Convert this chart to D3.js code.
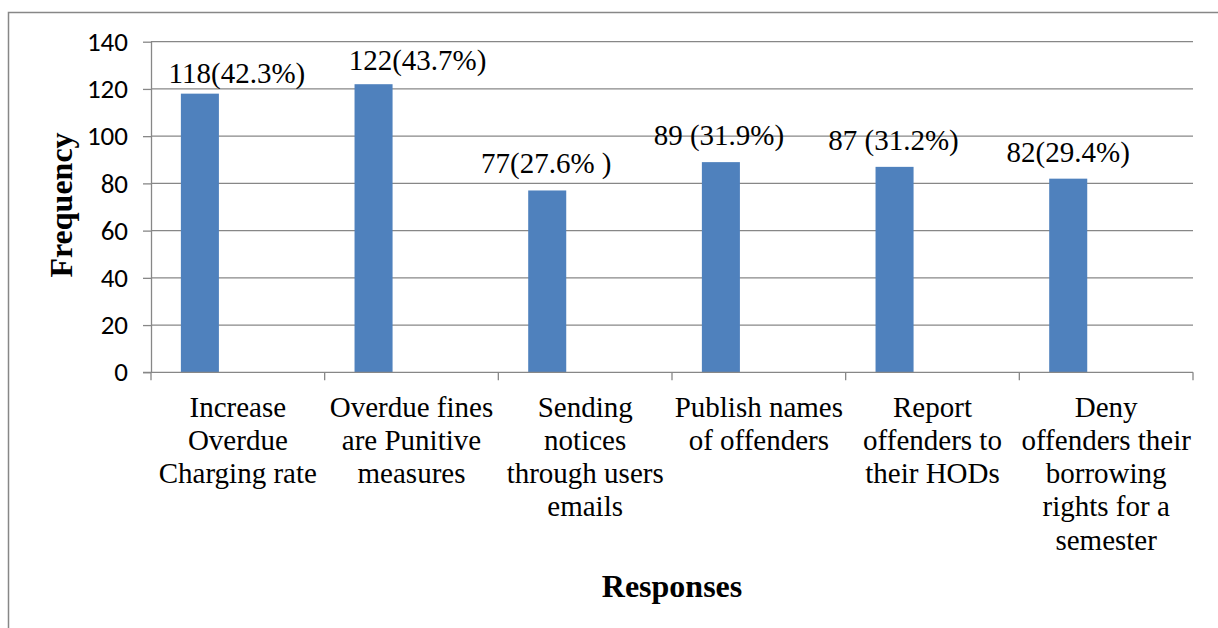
<!DOCTYPE html>
<html>
<head>
<meta charset="utf-8">
<title>Responses frequency</title>
<script src="https://cdnjs.cloudflare.com/ajax/libs/d3/7.8.5/d3.min.js"></script>
<style>
  body { margin: 0; background: #fff; }
  svg { display: block; }
  .val { font-family: "Liberation Serif", "Times New Roman", serif; font-size: 29px; fill: #000; white-space: pre; }
  .cat { font-family: "Liberation Serif", "Times New Roman", serif; font-size: 29px; fill: #000; }
  .title { font-family: "Liberation Serif", "Times New Roman", serif; font-size: 32px; font-weight: bold; fill: #000; }
</style>
</head>
<body>
<div id="chart"></div>
<script>
// data
var categories = [
  "Increase|Overdue|Charging rate",
  "Overdue fines|are Punitive|measures",
  "Sending|notices|through users|emails",
  "Publish names|of offenders",
  "Report|offenders to|their HODs",
  "Deny|offenders their|borrowing|rights for a|semester"
];
var frequency = [118, 122, 77, 89, 87, 82];
var valueLabels = ["118(42.3%)", "122(43.7%)", "77(27.6% )", "89 (31.9%)", "87 (31.2%)", "82(29.4%)"];
var yTicks = [0, 20, 40, 60, 80, 100, 120, 140];

// hand placed label nudges (as in the original)
var labelDx = [37, 44, -1, -2, -1, 0];
var labelDy = [11, 14, 17, 17, 17, 17];

var W = 1218, H = 628;
var plotL = 151, plotR = 1193, plotT = 41.7, plotB = 372.3;
var grey = "#878787";

var svg = d3.select("#chart").append("svg")
    .attr("width", W).attr("height", H);

// outer frame (right and bottom cut off)
svg.append("path")
    .attr("d", "M8.5," + H + "V12.5H" + W)
    .attr("fill", "none").attr("stroke", grey).attr("stroke-width", 1.5);

var x = d3.scaleBand().domain(d3.range(categories.length)).range([plotL, plotR]);
var y = d3.scaleLinear().domain([0, 140]).range([plotB, plotT]);

// gridlines
svg.append("g").selectAll("line")
  .data(yTicks.filter(function(d) { return d > 0; }))
  .enter().append("line")
    .attr("x1", plotL).attr("x2", plotR)
    .attr("y1", function(d) { return y(d); })
    .attr("y2", function(d) { return y(d); })
    .attr("stroke", grey).attr("stroke-width", 1.3);

// bars
var bw = x.bandwidth();
svg.append("g").selectAll("rect")
  .data(frequency)
  .enter().append("rect")
    .attr("x", function(d, i) { return x(i) + bw * 0.172; })
    .attr("width", bw * 0.219)
    .attr("y", function(d) { return y(d); })
    .attr("height", function(d) { return y(0) - y(d); })
    .attr("fill", "#4F81BD");

// y axis
var yAxis = d3.axisLeft(y).tickValues(yTicks).tickSize(8).tickPadding(15);
var gy = svg.append("g").attr("transform", "translate(" + plotL + ",0)").call(yAxis);
gy.attr("font-size", 27).attr("font-family", "Carlito, Calibri, Lato, sans-serif");
gy.selectAll("path, line").attr("stroke", grey).attr("stroke-width", 1.3);
gy.select("path").attr("d", "M0.5," + plotT + "V" + plotB);
gy.selectAll("text").attr("fill", "#000");

// x axis line and ticks at band edges
svg.append("line")
    .attr("x1", plotL - 8).attr("x2", plotR)
    .attr("y1", plotB).attr("y2", plotB)
    .attr("stroke", grey).attr("stroke-width", 1.3);
var edges = d3.range(categories.length).map(function(i) { return x(i); }).concat([plotR]);
svg.append("g").selectAll("line")
  .data(edges)
  .enter().append("line")
    .attr("x1", function(d) { return d; }).attr("x2", function(d) { return d; })
    .attr("y1", plotB).attr("y2", plotB + 8)
    .attr("stroke", grey).attr("stroke-width", 1.3);

// category labels
var cats = svg.append("g").selectAll("text")
  .data(categories)
  .enter().append("text")
    .attr("class", "cat")
    .attr("text-anchor", "middle")
    .attr("transform", function(d, i) { return "translate(" + (x(i) + bw / 2) + ",416.5)"; });
cats.selectAll("tspan")
  .data(function(d) { return d.split("|"); })
  .enter().append("tspan")
    .attr("x", 0)
    .attr("y", function(d, j) { return j * 33.3; })
    .text(function(d) { return d; });

// value labels
svg.append("g").selectAll("text")
  .data(frequency)
  .enter().append("text")
    .attr("class", "val")
    .attr("text-anchor", "middle")
    .attr("x", function(d, i) { return x(i) + bw * 0.172 + bw * 0.219 / 2 + labelDx[i]; })
    .attr("y", function(d, i) { return y(d) - labelDy[i]; })
    .text(function(d, i) { return valueLabels[i]; });

// axis titles
svg.append("text")
    .attr("class", "title")
    .attr("text-anchor", "middle")
    .attr("transform", "translate(72," + ((plotT + plotB) / 2 - 2) + ") rotate(-90)")
    .text("Frequency");

svg.append("text")
    .attr("class", "title")
    .attr("text-anchor", "middle")
    .attr("x", (plotL + plotR) / 2)
    .attr("y", 597)
    .text("Responses");
</script>
</body>
</html>
